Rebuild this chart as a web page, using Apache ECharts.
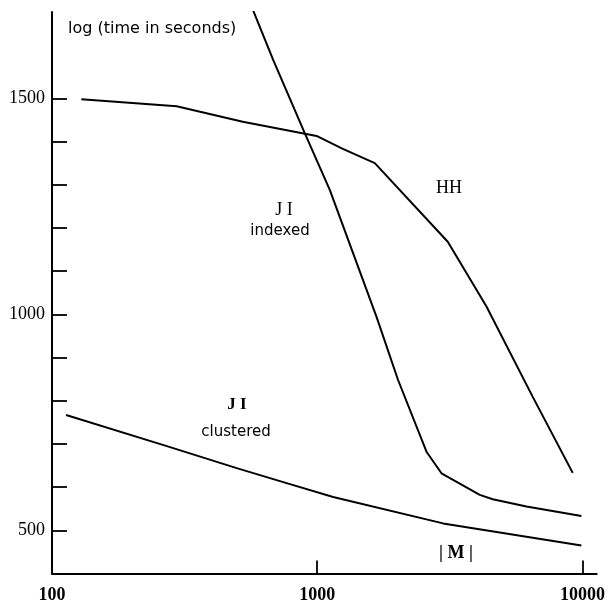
<!DOCTYPE html>
<html>
<head>
<meta charset="utf-8">
<script src="https://cdn.jsdelivr.net/npm/echarts@6/dist/echarts.min.js"></script>
<style>
  html, body { margin: 0; padding: 0; background: #fff; }
  #chart { width: 608px; height: 608px; }
</style>
</head>
<body>
<div id="chart"></div>
<script>
// |M| values (log x) and log(time) readings for each curve
const hhX = [129, 295, 524, 994, 1249, 1648, 3105, 4345, 6493, 9187];
const hhY = [1498, 1482, 1446, 1413, 1383, 1350, 1168, 1018, 809, 633];

const jiIndexedX = [566, 682, 898, 1115, 1673, 2017, 2581, 2940, 4100, 4588, 6148, 9906];
const jiIndexedY = [1712, 1589, 1419, 1288, 994, 848, 682, 632, 582, 572, 555, 533];

const jiClusteredX = [113, 271, 497, 789, 1148, 2982, 9906];
const jiClusteredY = [767, 695, 644, 607, 577, 516, 465];

// axis ticks / labels
const xTickValues = [1000, 10000];
const xLabelValues = [100, 1000, 10000];
const yTickValues = [500, 600, 700, 800, 900, 1000, 1100, 1200, 1300, 1400, 1500];
const yLabelValues = [500, 1000, 1500];

const zip = (xs, ys) => xs.map((x, i) => [x, ys[i]]);

const chart = echarts.init(document.getElementById('chart'));

const lineStyle = { color: '#000', width: 2 };
const mkLine = (name, xs, ys) => ({
    name: name,
    type: 'line',
    data: zip(xs, ys),
    symbol: 'none',
    smooth: false,
    lineStyle: lineStyle
});

const serif = '"Liberation Serif", "DejaVu Serif", serif';
const sans = '"DejaVu Sans", sans-serif';

chart.setOption({
    animation: false,
    backgroundColor: '#fff',
    grid: { left: 52, right: 11, top: 12, bottom: 34.5, containLabel: false },
    xAxis: {
        type: 'log',
        logBase: 10,
        min: 100,
        max: 11312,
        axisLine: { show: true, lineStyle: { color: '#000', width: 2 } },
        axisTick: {
            show: true, inside: true, length: 13,
            customValues: xTickValues,
            lineStyle: { color: '#000', width: 1.8 }
        },
        axisLabel: {
            customValues: xLabelValues,
            margin: 13,
            color: '#000',
            fontFamily: serif,
            fontWeight: 'bold',
            fontSize: 18,
            formatter: v => String(Math.round(v))
        },
        splitLine: { show: false },
        minorTick: { show: false }
    },
    yAxis: {
        type: 'value',
        min: 400,
        max: 1700,
        axisLine: { show: true, lineStyle: { color: '#000', width: 2 } },
        axisTick: {
            show: true, inside: true, length: 15,
            customValues: yTickValues,
            lineStyle: { color: '#000', width: 1.8 }
        },
        axisLabel: {
            customValues: yLabelValues,
            margin: 7,
            color: '#000',
            fontFamily: serif,
            fontSize: 18,
            padding: [0, 0, 8, 0],
            formatter: v => String(v)
        },
        splitLine: { show: false }
    },
    graphic: [
        { type: 'text', left: 68, top: 21, style: { text: 'log (time in seconds)', font: '16px ' + sans, fill: '#000' } },
        { type: 'text', x: 284, y: 210, style: { text: 'J I', font: '18px ' + serif, fill: '#000', align: 'center', verticalAlign: 'middle' } },
        { type: 'text', x: 280, y: 231, style: { text: 'indexed', font: '15px ' + sans, fill: '#000', align: 'center', verticalAlign: 'middle' } },
        { type: 'text', x: 449, y: 188, style: { text: 'HH', font: '18px ' + serif, fill: '#000', align: 'center', verticalAlign: 'middle' } },
        { type: 'text', x: 237, y: 405, style: { text: 'J I', font: 'bold 17px ' + serif, fill: '#000', align: 'center', verticalAlign: 'middle' } },
        { type: 'text', x: 236, y: 432, style: { text: 'clustered', font: '15px ' + sans, fill: '#000', align: 'center', verticalAlign: 'middle' } },
        { type: 'text', x: 456, y: 553, style: { text: '| M |', font: 'bold 18px ' + serif, fill: '#000', align: 'center', verticalAlign: 'middle' } }
    ],
    series: [
        mkLine('HH', hhX, hhY),
        mkLine('JI indexed', jiIndexedX, jiIndexedY),
        mkLine('JI clustered', jiClusteredX, jiClusteredY)
    ]
});
</script>
</body>
</html>
